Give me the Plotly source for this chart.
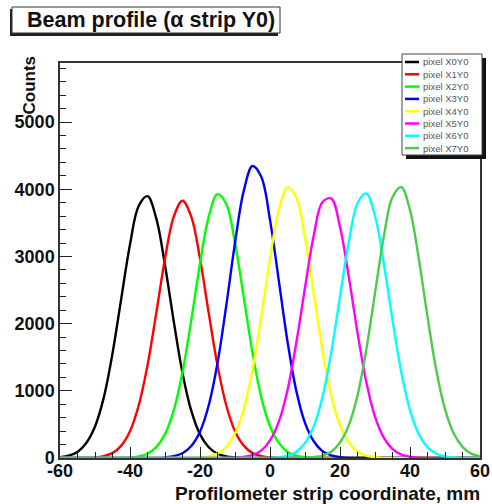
import plotly.graph_objects as go

# ---- data ----
x_mm = [-60, -57.5, -55, -52.5, -50, -47.5, -45, -42.5, -40, -37.5, -35, -32.5, -30,
        -27.5, -25, -22.5, -20, -17.5, -15, -12.5, -10, -7.5, -5, -2.5, 0, 2.5, 5,
        7.5, 10, 12.5, 15, 17.5, 20, 22.5, 25, 27.5, 30, 32.5, 35, 37.5, 40, 42.5,
        45, 47.5, 50, 52.5, 55, 57.5, 60]

names = ["pixel X0Y0", "pixel X1Y0", "pixel X2Y0", "pixel X3Y0",
         "pixel X4Y0", "pixel X5Y0", "pixel X6Y0", "pixel X7Y0"]

x0y0 = [12, 35, 90, 223, 469, 899, 1556, 2373, 3179, 3754, 3898, 3566, 2870, 2033, 1267,
        704, 352, 160, 63, 23, 8] + [0] * 28
x1y0 = [0, 0, 0, 4, 10, 29, 73, 184, 398, 785, 1379, 2156, 2968, 3593, 3830, 3593, 2968,
        2156, 1379, 785, 398, 184, 73, 29, 10, 4] + [0] * 23
x2y0 = [0] * 8 + [8, 24, 63, 162, 355, 709, 1277, 2049, 2892, 3593, 3928, 3782, 3203, 2392,
                  1568, 906, 473, 225, 91, 35, 12] + [0] * 20
x3y0 = [0] * 12 + [9, 26, 70, 179, 392, 785, 1413, 2267, 3200, 3976, 4347, 4186, 3545, 2647,
                   1735, 1003, 523, 249, 100, 39, 13] + [0] * 16
x4y0 = [0] * 16 + [8, 24, 65, 166, 364, 727, 1309, 2101, 2965, 3684, 4028, 3878, 3285, 2452,
                   1608, 929, 485, 230, 93, 36, 12] + [0] * 12
x5y0 = [0] * 20 + [4, 16, 43, 109, 261, 538, 1010, 1708, 2535, 3311, 3810, 3861, 3440, 2703,
                   1868, 1135, 616, 304, 133, 51, 20, 6] + [0] * 7
x6y0 = [0] * 25 + [12, 36, 91, 225, 474, 909, 1572, 2398, 3211, 3792, 3938, 3602, 2899, 2054,
                   1280, 711, 356, 162, 63, 24, 8] + [0] * 3
x7y0 = [0] * 29 + [12, 36, 93, 231, 485, 930, 1610, 2455, 3289, 3883, 4033, 3689, 2969, 2103,
                   1311, 728, 364, 166, 65, 24]

series = [x0y0, x1y0, x2y0, x3y0, x4y0, x5y0, x6y0, x7y0]
colors = ["#000000", "#ff0000", "#00ff00", "#0000ff",
          "#ffff00", "#ff00ff", "#00ffff", "#4ccc4c"]

x_ticks = [-60, -40, -20, 0, 20, 40, 60]
y_ticks = [0, 1000, 2000, 3000, 4000, 5000]

# ---- layout geometry (pixels) ----
W, H = 492, 504
L, R, T, B = 60, 12, 63, 46
PW, PH = W - L - R, H - T - B


def px(xp):
    return (xp - L) / PW


def py(yp):
    return (H - B - yp) / PH


fig = go.Figure()
for ys, nm, c in zip(series, names, colors):
    fig.add_trace(go.Scatter(x=x_mm, y=ys, mode="lines", name=nm,
                             line=dict(color=c, width=2.4, shape="spline", smoothing=1),
                             showlegend=False))

tickfont = dict(family="Liberation Sans", size=18, color="#111", weight="bold")
fig.update_xaxes(range=[-60, 60], tickvals=x_ticks, ticktext=[str(v) for v in x_ticks],
                 ticks="inside", ticklen=11, tickwidth=1.2, tickcolor="#222",
                 minor=dict(dtick=5, ticks="inside", ticklen=6, tickwidth=1, tickcolor="#222"),
                 showline=True, linecolor="#333", linewidth=1.5, mirror=True,
                 showgrid=False, zeroline=False, tickfont=tickfont,
                 ticklabelstandoff=-4, automargin=False)
fig.update_yaxes(range=[0, 5880], tickvals=y_ticks, ticktext=[str(v) for v in y_ticks],
                 ticks="inside", ticklen=12, tickwidth=1.2, tickcolor="#222",
                 minor=dict(dtick=200, ticks="inside", ticklen=6, tickwidth=1, tickcolor="#222"),
                 showline=True, linecolor="#333", linewidth=1.5, mirror=True,
                 showgrid=False, zeroline=False, tickfont=tickfont, automargin=False)

shapes = []
annotations = []

# title box with shadow
shapes.append(dict(type="rect", xref="paper", yref="paper",
                   x0=px(10), x1=px(278), y0=py(36), y1=py(9),
                   fillcolor="#222", line=dict(width=0), layer="above"))
shapes.append(dict(type="rect", xref="paper", yref="paper",
                   x0=px(12), x1=px(280), y0=py(33), y1=py(7),
                   fillcolor="white", line=dict(color="#333", width=1), layer="above"))
annotations.append(dict(xref="paper", yref="paper", x=px(151), y=py(20),
                        text="Beam profile (α strip Y0)", showarrow=False,
                        xanchor="center", yanchor="middle",
                        font=dict(family="Liberation Sans", size=21.5, color="#111", weight="bold")))

# legend box with shadow
lx0, lx1, ly0, ly1 = 402, 482, 54, 155
shapes.append(dict(type="rect", xref="paper", yref="paper",
                   x0=px(lx0 + 4), x1=px(lx1 + 4), y0=py(ly1 + 4), y1=py(ly0 + 4),
                   fillcolor="#111", line=dict(width=0), layer="above"))
shapes.append(dict(type="rect", xref="paper", yref="paper",
                   x0=px(lx0), x1=px(lx1), y0=py(ly1), y1=py(ly0),
                   fillcolor="white", line=dict(color="#444", width=1), layer="above"))
for i, (nm, c) in enumerate(zip(names, colors)):
    yy = 62 + i * 12.3
    shapes.append(dict(type="line", xref="paper", yref="paper",
                       x0=px(405), x1=px(419), y0=py(yy), y1=py(yy),
                       line=dict(color=c, width=2.5), layer="above"))
    annotations.append(dict(xref="paper", yref="paper", x=px(421), y=py(yy),
                            text=nm, showarrow=False, xanchor="left", yanchor="middle",
                            font=dict(family="Liberation Sans", size=9.5, color="#555")))

# axis titles
annotations.append(dict(xref="paper", yref="paper", x=px(482), y=py(493),
                        text="Profilometer strip coordinate, mm", showarrow=False,
                        xanchor="right", yanchor="middle",
                        font=dict(family="Liberation Sans", size=19, color="#111", weight="bold")))
annotations.append(dict(xref="paper", yref="paper", x=px(29), y=py(54),
                        text="Counts", showarrow=False, textangle=-90,
                        xanchor="center", yanchor="top",
                        font=dict(family="Liberation Sans", size=17, color="#111", weight="bold")))

fig.update_layout(width=W, height=H, autosize=False, margin=dict(l=L, r=R, t=T, b=B, pad=0),
                  paper_bgcolor="white", plot_bgcolor="white",
                  shapes=shapes, annotations=annotations, showlegend=False)

fig.write_html("out.html")
